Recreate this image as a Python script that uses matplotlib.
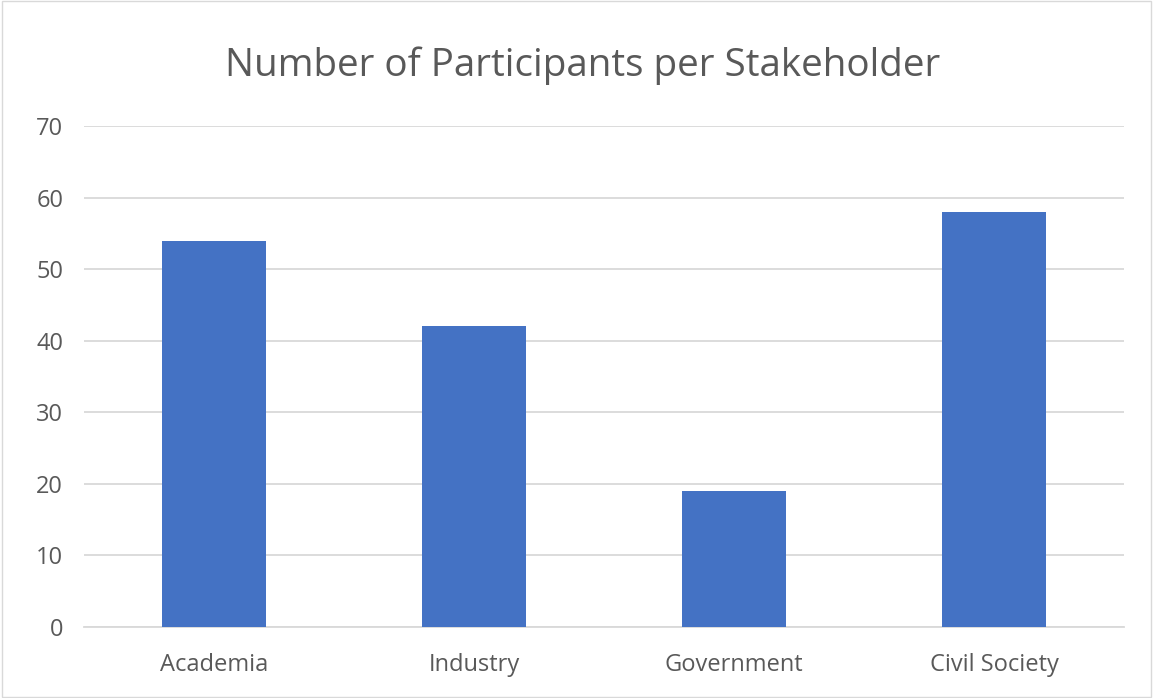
import matplotlib
matplotlib.use("Agg")
import matplotlib.pyplot as plt
from matplotlib.patches import Rectangle

categories = ["Academia", "Industry", "Government", "Civil Society"]
participants = [54, 42, 19, 58]
yticks = [0, 10, 20, 30, 40, 50, 60, 70]

plt.rcParams['font.family'] = ['Open Sans', 'DejaVu Sans']

fig = plt.figure(figsize=(11.53, 6.98), dpi=100)
ax = fig.add_axes([0.0729, 0.1017, 0.9019, 0.7178])

x = range(len(categories))
ax.bar(x, participants, width=0.4, color="#4472C4", zorder=3)

ax.set_xlim(-0.5, 3.5)
ax.set_ylim(0, 70)
ax.set_yticks(yticks)
ax.set_xticks(list(x))
ax.set_xticklabels(categories)
ax.grid(axis="y", color="#D9D9D9", linewidth=1.3, zorder=0)
for s in ["top", "right", "left"]:
    ax.spines[s].set_visible(False)
ax.spines["bottom"].set_color("#D9D9D9")
ax.spines["bottom"].set_linewidth(1.3)
ax.tick_params(length=0, labelsize=17, colors="#595959")
ax.tick_params(axis="x", pad=19)
ax.tick_params(axis="y", pad=15)

fig.text(0.505, 0.906, "Number of Participants per Stakeholder", ha="center",
         va="center", fontsize=27.8, color="#595959")

fig.patches.append(Rectangle((0.002, 0.002), 0.996, 0.996, transform=fig.transFigure,
                             fill=False, edgecolor="#D9D9D9", linewidth=1))

fig.savefig("out.png", dpi=100)
